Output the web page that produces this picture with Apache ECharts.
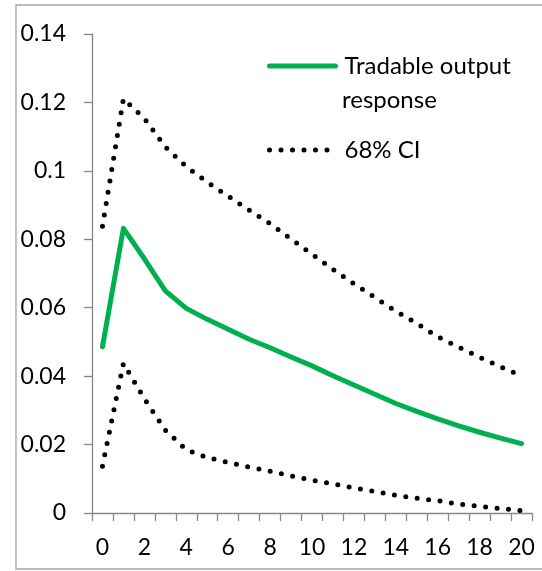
<!DOCTYPE html>
<html>
<head>
<meta charset="utf-8">
<script src="https://cdn.jsdelivr.net/npm/echarts@6/dist/echarts.min.js"></script>
<style>
html,body{margin:0;padding:0;background:#fff;}
#c{width:542px;height:571px;}
</style>
</head>
<body>
<div id="c"></div>
<script>
var categories = ['0','1','2','3','4','5','6','7','8','9','10','11','12','13','14','15','16','17','18','19','20'];
var response = [0.0486, 0.0832, 0.0743, 0.0649, 0.0598, 0.0566, 0.0537, 0.0508, 0.0483, 0.0456, 0.0430, 0.0401, 0.0374, 0.0347, 0.0320, 0.0297, 0.0275, 0.0255, 0.0236, 0.0219, 0.0203];
var ciUpper = [0.0838, 0.1211, 0.1153, 0.1070, 0.1012, 0.0967, 0.0926, 0.0885, 0.0846, 0.0801, 0.0756, 0.0712, 0.0670, 0.0630, 0.0590, 0.0554, 0.0515, 0.0485, 0.0455, 0.0427, 0.0401];
var ciLower = [0.0137, 0.0437, 0.0334, 0.0242, 0.0185, 0.0162, 0.0148, 0.0134, 0.0122, 0.0108, 0.0096, 0.0085, 0.0073, 0.0063, 0.0052, 0.0043, 0.0036, 0.0026, 0.0019, 0.0013, 0.0007];

var FONT = 'Lato';
var chart = echarts.init(document.getElementById('c'), null, {renderer: 'canvas'});
var dotStyle = {color: '#000', width: 5, type: [0, 11.5], cap: 'round'};
chart.setOption({
  animation: false,
  grid: {left: 92, right: 10, top: 34, bottom: 58, containLabel: false},
  legend: {
    orient: 'vertical',
    left: 267,
    top: 54,
    padding: 0,
    itemWidth: 66,
    itemHeight: 25,
    itemGap: 60,
    data: ['Tradable output', '68% CI'],
    itemStyle: {opacity: 0},
    lineStyle: {width: 5, cap: 'round'},
    textStyle: {fontFamily: FONT, fontSize: 24, color: '#000', padding: [0, 0, 0, 4]}
  },
  graphic: [
    {type: 'rect', shape: {x: 16, y: 5, width: 540, height: 564}, style: {fill: 'none', stroke: '#a6a6a6', lineWidth: 1.3}, silent: true},
    {type: 'text', left: 342, top: 88, style: {text: 'response', font: '24px Lato', fill: '#000'}}
  ],
  xAxis: {
    type: 'category',
    data: categories,
    boundaryGap: true,
    axisLine: {lineStyle: {color: '#868686', width: 1.3}},
    axisTick: {show: true, interval: 0, length: 8, lineStyle: {color: '#868686', width: 1.3}},
    axisLabel: {interval: 1, margin: 23, fontFamily: FONT, fontSize: 23, color: '#000'}
  },
  yAxis: {
    type: 'value',
    min: 0, max: 0.14, interval: 0.02,
    splitLine: {show: false},
    axisLine: {show: true, lineStyle: {color: '#868686', width: 1.3}},
    axisTick: {show: true, length: 8, lineStyle: {color: '#868686', width: 1.3}},
    axisLabel: {margin: 26, fontFamily: FONT, fontSize: 23, color: '#000',
      formatter: function (v) { return String(Math.round(v * 100) / 100); }}
  },
  series: [
    {name: 'Tradable output', type: 'line', data: response, symbol: 'none',
     lineStyle: {color: '#00b050', width: 5, cap: 'round', join: 'round'}, itemStyle: {color: '#00b050'}},
    {name: '68% CI', type: 'line', data: ciUpper, symbol: 'none', lineStyle: dotStyle, itemStyle: {color: '#000'}},
    {name: '68% CI', type: 'line', data: ciLower, symbol: 'none', lineStyle: dotStyle, itemStyle: {color: '#000'}}
  ]
});
</script>
</body>
</html>
